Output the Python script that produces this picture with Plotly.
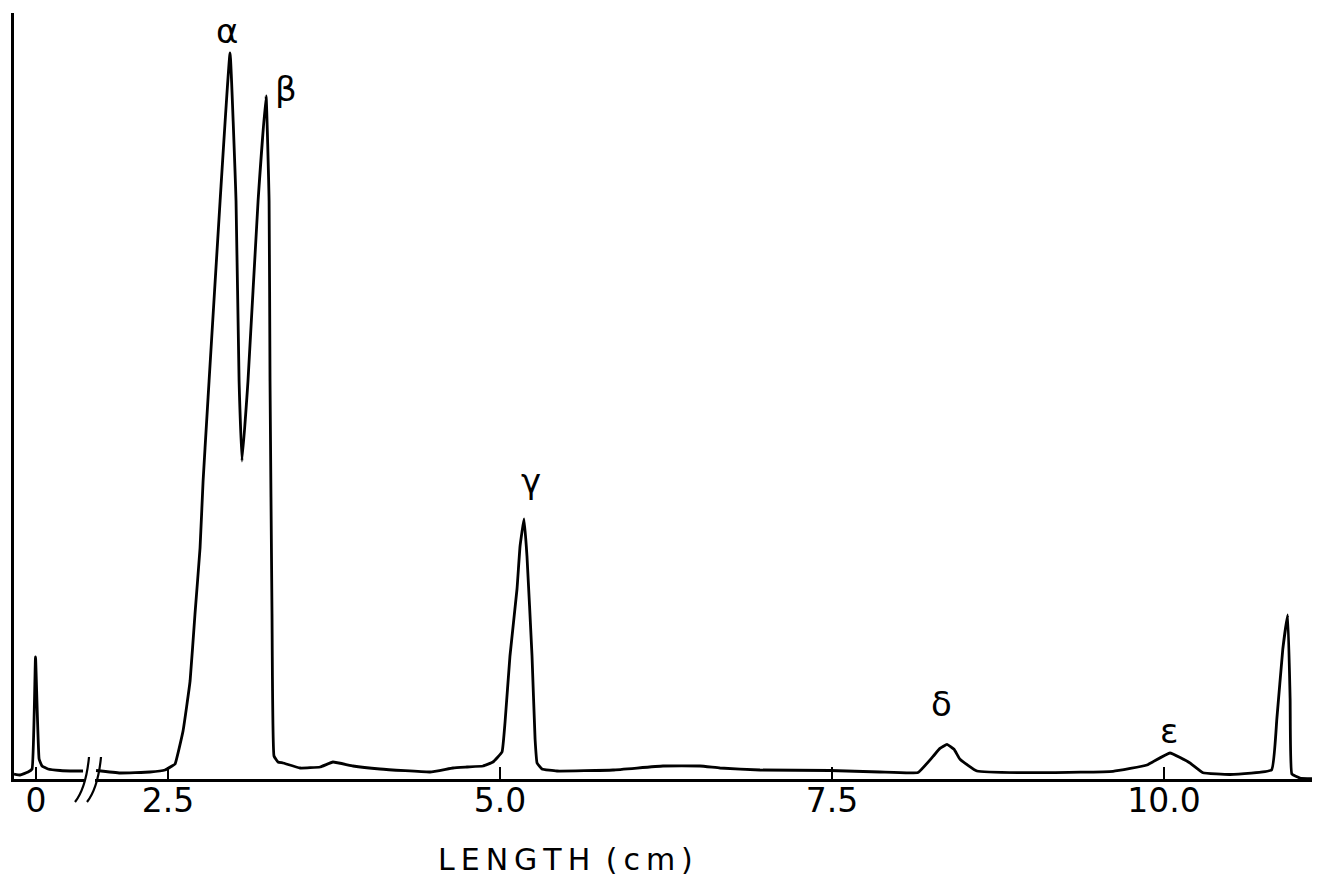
import plotly.graph_objects as go

# ---- data (x in cm along displayed scale, y = detector signal, arbitrary units) ----
# segment before the axis break (true cm around origin); drawn shifted by BREAK_SHIFT
pre_x = [-0.166, -0.120, -0.060, -0.030, -0.004, 0.023, 0.045, 0.090, 0.181, 0.294, 0.354]
pre_y = [5, 4, 7, 10, 122, 20, 13, 10, 8.5, 8, 8]
BREAK_SHIFT = 1.506

main_x = [1.958, 2.139, 2.364, 2.477, 2.530, 2.553, 2.613, 2.666, 2.703, 2.741, 2.764, 2.794,
          2.809, 2.892, 2.967, 3.012, 3.035, 3.057, 3.102, 3.178, 3.238, 3.261, 3.268, 3.283,
          3.298, 3.328, 3.366, 3.494, 3.645, 3.742, 3.893, 4.096, 4.473, 4.646, 4.752, 4.872,
          4.947, 5.015, 5.038, 5.075, 5.128, 5.151, 5.181, 5.203, 5.241, 5.264, 5.279, 5.316,
          5.429, 5.851, 6.227, 6.506, 6.657, 6.958, 7.485, 7.861, 8.148, 8.261, 8.313, 8.366,
          8.419, 8.464, 8.592, 9.119, 9.616, 9.872, 10.045, 10.196, 10.294, 10.497, 10.810,
          10.850, 10.895, 10.932, 10.950, 10.963, 11.024, 11.175]
main_y = [8.5, 6, 7, 9, 13, 15, 48, 98, 165, 231, 298, 365,
          398, 578, 726, 578, 398, 318, 398, 578, 683, 578, 398, 165,
          23, 17, 16, 11, 12, 17, 13, 10, 7, 11, 12, 13,
          17, 27, 57, 123, 190, 233, 260, 223, 123, 40, 16, 10,
          8, 9, 13, 13, 11, 9, 8.5, 7, 6.5, 22.6, 30.6, 34.6,
          29.7, 19.8, 8, 6.3, 7.7, 14, 26, 16, 6.3, 4.5, 9,
          60, 130, 164, 80, 5, 1, 0]

tick_vals = [BREAK_SHIFT, 2.5, 5.0, 7.5, 10.0]
tick_text = ["0", "2.5", "5.0", "7.5", "10.0"]

peak_labels = ["α", "β", "γ", "δ", "ε"]
peak_label_x = [2.944, 3.389, 5.233, 8.328, 10.038]
peak_label_y = [748, 690, 298, 75, 48]

# ---- figure ----
fig = go.Figure()
line_style = dict(color="black", width=2.8, shape="spline", smoothing=0.3)
fig.add_trace(go.Scatter(x=[v + BREAK_SHIFT for v in pre_x], y=pre_y, mode="lines",
                         line=line_style, showlegend=False, hoverinfo="skip"))
fig.add_trace(go.Scatter(x=main_x, y=main_y, mode="lines",
                         line=line_style, showlegend=False, hoverinfo="skip"))

for t, x, y in zip(peak_labels, peak_label_x, peak_label_y):
    fig.add_annotation(x=x, y=y, text=t, showarrow=False,
                       font=dict(family="DejaVu Sans", size=34, color="black"),
                       xanchor="center", yanchor="middle")

BODY = 8  # default page body margin
L, T, W, H = 14, 13, 1306, 766  # plot area in page pixels


def px(xp):
    return (xp - L) / W


def py(yp):
    return (T + H - yp) / H


# axis title (as annotation, positioned like the original)
fig.add_annotation(x=px(565), y=py(860), xref="paper", yref="paper",
                   text="L\u2009E\u2009N\u2009G\u2009T\u2009H\u2009 (\u2009c\u2009m\u2009)",
                   showarrow=False, xanchor="center", yanchor="middle",
                   font=dict(family="DejaVu Sans", size=30, color="black"))

# axis break: white gap + two curved strokes
fig.add_shape(type="rect", xref="paper", yref="paper", x0=px(84), x1=px(95), y0=py(783), y1=py(765),
              line=dict(width=0), fillcolor="white", layer="above")
for x0 in (89, 101):
    path = "M {:.5f},{:.5f} Q {:.5f},{:.5f} {:.5f},{:.5f}".format(
        px(x0), py(757), px(x0 - 3), py(788), px(x0 - 14), py(802))
    fig.add_shape(type="path", path=path, xref="paper", yref="paper",
                  line=dict(color="black", width=2.2), layer="above")

fig.update_layout(
    width=1320, height=877,
    margin=dict(l=L - BODY, r=1320 - (L - BODY) - W, t=T - BODY, b=877 - (T - BODY) - H),
    paper_bgcolor="white", plot_bgcolor="white",
    xaxis=dict(range=[1.340, 11.175], showgrid=False, zeroline=False,
               showline=True, linecolor="black", linewidth=3,
               ticks="inside", ticklen=12, tickwidth=2, tickcolor="black",
               tickvals=tick_vals, ticktext=tick_text, ticklabelstandoff=-10,
               tickfont=dict(family="DejaVu Sans", size=33, color="black")),
    yaxis=dict(range=[0, 766], showgrid=False, zeroline=False,
               showline=True, linecolor="black", linewidth=3,
               showticklabels=False, ticks=""),
)

fig.write_html("out.html")
